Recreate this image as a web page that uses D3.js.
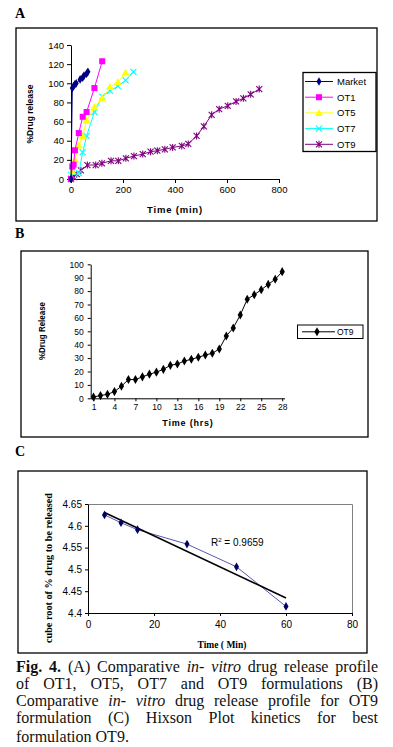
<!DOCTYPE html>
<html><head><meta charset="utf-8">
<script src="https://cdn.jsdelivr.net/npm/d3@7/dist/d3.min.js"></script>
<style>body{margin:0;background:#fff}svg{display:block}</style>
</head><body><svg id="c" width="393" height="747"></svg>
<script>
// ---------- DATA ----------
// Panel A : % drug release vs time (min)
const marketT=[0,5,10,15,20,35,45,50,60,65];
const marketV=[0,95,97,99,100,104,106,108,110,112];
const ot1T=[0,5,10,15,30,45,60,90,120];
const ot1V=[0,13,15,30,48,65,70,95,123];
const ot5T=[0,5,15,30,45,60,90,120,150,180,210];
const ot5V=[0,8,20,35,45,61,75,84,96,101,111];
const ot7T=[0,30,45,60,90,120,150,180,210,240];
const ot7V=[4,6,28,45,70,86,92,97,103,112];
const ot9T=[0,10,22,38,63,95,119,154,182,211,242,276,306,332,361,391,426,451,483,511,541,570,603,635,663,691,724];
const ot9V=[0,2,5,9,14.6,14.6,16.4,19,19,21.6,24,26,28.5,29.6,31,33,34.5,36.6,45,55,67,73,76.5,81,84.3,88.5,94];
const seriesNames=["Market","OT1","OT5","OT7","OT9"];
const aXTicks=[0,200,400,600,800];
const aYTicks=[0,20,40,60,80,100,120,140];
// Panel B : OT9 release vs time (hrs)
const bHours=d3.range(1,29);
const bValues=[1,2,3,5,9,14,14,16,18,19.5,21.6,24.6,25.6,27.8,29.1,30.6,32.3,33.6,36.8,46.5,52.5,62.2,73.9,77.3,81,85,88.8,94.5];
const bXTicks=[1,4,7,10,13,16,19,22,25,28];
const bYTicks=[0,10,20,30,40,50,60,70,80,90,100];
// Panel C : Hixson plot
const cTime=[5,10,15,30,45,60];
const cCubeRoot=[4.625,4.607,4.591,4.558,4.506,4.415];
const cXTicks=[0,20,40,60,80];
const cYTicks=[4.4,4.45,4.5,4.55,4.6,4.65];
const cR2Label="0.9659";

// ---------- HELPERS ----------
const svg=d3.select("#c");
const SANS="'Liberation Sans', Arial, sans-serif";
const SERIF="'Liberation Serif', 'Times New Roman', serif";

function marker(g,type,color,x,y){
  if(type==="diamond"){
    g.append("path").attr("d",d3.symbol().type(d3.symbolDiamond).size(22)()).attr("transform",`translate(${x},${y})`).attr("fill",color);
  }else if(type==="square"){
    g.append("rect").attr("x",x-3).attr("y",y-3).attr("width",6).attr("height",6).attr("fill",color);
  }else if(type==="triangle"){
    g.append("path").attr("d",`M${x},${y-4}L${x+4},${y+3}L${x-4},${y+3}Z`).attr("fill",color);
  }else if(type==="x"){
    g.append("path").attr("d",`M${x-3},${y-3}L${x+3},${y+3}M${x-3},${y+3}L${x+3},${y-3}`).attr("stroke",color).attr("stroke-width",1.2);
  }else if(type==="star"){
    g.append("path").attr("d",`M${x-3},${y-3}L${x+3},${y+3}M${x-3},${y+3}L${x+3},${y-3}M${x},${y-3.5}L${x},${y+3.5}`).attr("stroke",color).attr("stroke-width",1.1);
  }else if(type==="bdiamond"){
    g.append("path").attr("d",d3.symbol().type(d3.symbolDiamond).size(24)()).attr("transform",`translate(${x},${y})`).attr("fill",color);
  }
}
function styleAxis(g,fs,fam){
  g.select(".domain").attr("stroke","#000");
  g.selectAll(".tick line").attr("stroke","#000");
  g.selectAll(".tick text").attr("fill","#000").attr("font-size",fs).attr("font-family",fam);
}
function frame(x0,y0,x1,y1){
  svg.append("rect").attr("x",x0).attr("y",y0).attr("width",x1-x0).attr("height",y1-y0)
    .attr("fill","none").attr("stroke","#000").attr("stroke-width",1.3);
}
function panelLetter(t,x,y){
  svg.append("text").attr("x",x).attr("y",y).text(t).attr("font-family",SERIF)
    .attr("font-weight","bold").attr("font-size",14);
}

// ---------- PANEL A ----------
panelLetter("A",15,18);
frame(16,28,377,221);
const ax=d3.scaleLinear().domain([0,800]).range([71,279]);
const ay=d3.scaleLinear().domain([0,140]).range([179,45]);
const gA=svg.append("g");
const axA=gA.append("g").attr("transform","translate(0,179)")
  .call(d3.axisBottom(ax).tickValues(aXTicks).tickSize(4).tickSizeOuter(0).tickPadding(3));
styleAxis(axA,9.5,SANS);
const ayA=gA.append("g").attr("transform","translate(71,0)")
  .call(d3.axisLeft(ay).tickValues(aYTicks).tickSize(4).tickSizeOuter(0).tickPadding(3));
styleAxis(ayA,9.5,SANS);
gA.append("text").attr("x",175).attr("y",213).attr("text-anchor","middle").text("Time (min)")
  .attr("font-family",SANS).attr("font-weight","bold").attr("font-size",9.5).attr("letter-spacing",0.8);
gA.append("text").attr("transform","translate(33,114) rotate(-90)").attr("text-anchor","middle")
  .text("%Drug release").attr("font-family",SANS).attr("font-weight","bold").attr("font-size",8.5);

const aSeries=[
  {name:"Market",t:marketT,v:marketV,color:"#000080",m:"diamond"},
  {name:"OT1",t:ot1T,v:ot1V,color:"#FF00FF",m:"square"},
  {name:"OT5",t:ot5T,v:ot5V,color:"#FFFF00",m:"triangle"},
  {name:"OT7",t:ot7T,v:ot7V,color:"#00FFFF",m:"x"},
  {name:"OT9",t:ot9T,v:ot9V,color:"#800080",m:"star"}
];
const lineA=d3.line().x(d=>ax(d[0])).y(d=>ay(d[1]));
aSeries.slice().reverse().forEach(s=>{
  const pts=s.t.map((t,i)=>[t,s.v[i]]);
  const g=gA.append("g");
  g.append("path").attr("d",lineA(pts)).attr("fill","none").attr("stroke",s.color).attr("stroke-width",1);
  pts.forEach(p=>marker(g,s.m,s.color,ax(p[0]),ay(p[1])));
});
// legend
const lg=gA.append("g");
lg.append("rect").attr("x",303).attr("y",72.5).attr("width",73).attr("height",79)
  .attr("fill","#fff").attr("stroke","#000").attr("stroke-width",1.3);
aSeries.forEach((s,i)=>{
  const y=81.5+i*15.7;
  lg.append("line").attr("x1",305).attr("x2",333).attr("y1",y).attr("y2",y).attr("stroke",s.color).attr("stroke-width",1);
  marker(lg,s.m,s.color,319,y);
  lg.append("text").attr("x",337).attr("y",y).attr("dy","0.35em").text(seriesNames[i])
    .attr("font-family",SANS).attr("font-size",9.5);
});

// ---------- PANEL B ----------
panelLetter("B",15,238);
frame(21,251,368,437);
const bx=d3.scalePoint().domain(bHours).range([90.7,285]).padding(0.4);
const by=d3.scaleLinear().domain([0,100]).range([398.3,264.3]);
const gB=svg.append("g");
const axB=gB.append("g").attr("transform","translate(0,398.3)")
  .call(d3.axisBottom(bx).tickValues(bXTicks).tickSize(3).tickSizeOuter(0).tickPadding(3));
styleAxis(axB,8.5,SANS);
axB.select(".domain").attr("d","M90.7,0.5H285");
const ayB=gB.append("g").attr("transform","translate(90.7,0)")
  .call(d3.axisLeft(by).tickValues(bYTicks).tickSize(3).tickSizeOuter(0).tickPadding(4));
styleAxis(ayB,8.5,SANS);
gB.append("text").attr("x",188).attr("y",426).attr("text-anchor","middle").text("Time (hrs)")
  .attr("font-family",SANS).attr("font-weight","bold").attr("font-size",9).attr("letter-spacing",0.8);
gB.append("text").attr("transform","translate(45,331) rotate(-90)").attr("text-anchor","middle")
  .text("%Drug Release").attr("font-family",SANS).attr("font-weight","bold").attr("font-size",8.5)
  .attr("textLength",58).attr("lengthAdjust","spacingAndGlyphs");
const bpts=bHours.map((h,i)=>[h,bValues[i]]);
gB.append("path").attr("d",d3.line().x(d=>bx(d[0])).y(d=>by(d[1]))(bpts))
  .attr("fill","none").attr("stroke","#000").attr("stroke-width",1);
bpts.forEach(p=>marker(gB,"bdiamond","#000",bx(p[0]),by(p[1])));
gB.append("rect").attr("x",297.5).attr("y",325).attr("width",65.5).attr("height",13.5)
  .attr("fill","#fff").attr("stroke","#000").attr("stroke-width",1);
gB.append("line").attr("x1",302).attr("x2",335).attr("y1",331.8).attr("y2",331.8).attr("stroke","#000");
marker(gB,"bdiamond","#000",317,331.8);
gB.append("text").attr("x",337).attr("y",331.8).attr("dy","0.35em").text("OT9")
  .attr("font-family",SANS).attr("font-size",8.5);

// ---------- PANEL C ----------
panelLetter("C",15,456);
frame(18,471,367,653);
const cx=d3.scaleLinear().domain([0,80]).range([88,352]);
const cy=d3.scaleLinear().domain([4.4,4.65]).range([613,504]);
const gC=svg.append("g");
gC.append("path").attr("d","M88,504.5H352.5V613").attr("fill","none").attr("stroke","#808080").attr("stroke-width",1);
const axC=gC.append("g").attr("transform","translate(0,613)")
  .call(d3.axisBottom(cx).tickValues(cXTicks).tickSize(3).tickSizeOuter(0).tickPadding(5));
styleAxis(axC,10,SANS);
const ayC=gC.append("g").attr("transform","translate(88,0)")
  .call(d3.axisLeft(cy).tickValues(cYTicks).tickSize(3).tickSizeOuter(0).tickPadding(3).tickFormat(d3.format("")));
styleAxis(ayC,10,SANS);
gC.append("text").attr("x",222).attr("y",648).attr("text-anchor","middle").text("Time ( Min)")
  .attr("font-family",SERIF).attr("font-weight","bold").attr("font-size",9.5);
gC.append("text").attr("transform","translate(52,568) rotate(-90)").attr("text-anchor","middle")
  .text("cube root of % drug to be released").attr("font-family",SERIF).attr("font-weight","bold")
  .attr("font-size",9.5).attr("textLength",150).attr("lengthAdjust","spacingAndGlyphs");
// least squares trendline
const mx=d3.mean(cTime), my=d3.mean(cCubeRoot);
const sxy=d3.sum(cTime,(t,i)=>(t-mx)*(cCubeRoot[i]-my));
const sxx=d3.sum(cTime,t=>(t-mx)*(t-mx));
const slope=sxy/sxx, icpt=my-slope*mx;
const tx=d3.extent(cTime);
const cpts=cTime.map((t,i)=>[t,cCubeRoot[i]]);
gC.append("path").attr("d",d3.line().x(d=>cx(d[0])).y(d=>cy(d[1]))(cpts))
  .attr("fill","none").attr("stroke","#4444aa").attr("stroke-width",0.9);
gC.append("line").attr("x1",cx(tx[0])).attr("y1",cy(icpt+slope*tx[0]))
  .attr("x2",cx(tx[1])).attr("y2",cy(icpt+slope*tx[1])).attr("stroke","#000").attr("stroke-width",1.5);
cpts.forEach(p=>marker(gC,"diamond","#000066",cx(p[0]),cy(p[1])));
const r2=gC.append("text").attr("x",211).attr("y",546).attr("font-family",SANS).attr("font-size",10);
r2.append("tspan").text("R");
r2.append("tspan").text("2").attr("font-size",6).attr("dy",-4);
r2.append("tspan").text(" = "+cR2Label).attr("dy",4);

// ---------- CAPTION ----------
const capLines=[
  [["Fig.","b"],["4.","b"],["(A)"],["Comparative"],["in-","i"],["vitro","i"],["drug"],["release"],["profile"]],
  [["of"],["OT1,"],["OT5,"],["OT7"],["and"],["OT9"],["formulations"],["(B)"]],
  [["Comparative"],["in-","i"],["vitro","i"],["drug"],["release"],["profile"],["for"],["OT9"]],
  [["formulation"],["(C)"],["Hixson"],["Plot"],["kinetics"],["for"],["best"]],
  [["formulation"],["OT9."]]
];
const capY=[672,689,706,723,742];
const capX0=16, capX1=378;
capLines.forEach((words,li)=>{
  const els=words.map(w=>{
    const t=svg.append("text").attr("y",capY[li]).text(w[0]).attr("font-family",SERIF).attr("font-size",16).attr("fill","#111");
    if(w[1]==="b") t.attr("font-weight","bold");
    if(w[1]==="i") t.attr("font-style","italic");
    return t;
  });
  const widths=els.map(e=>e.node().getComputedTextLength());
  const total=d3.sum(widths);
  const last=li===capLines.length-1;
  const gap=last?4:(capX1-capX0-total)/(words.length-1);
  let x=capX0;
  els.forEach((e,i)=>{e.attr("x",x); x+=widths[i]+gap;});
});
</script>
</body></html>
